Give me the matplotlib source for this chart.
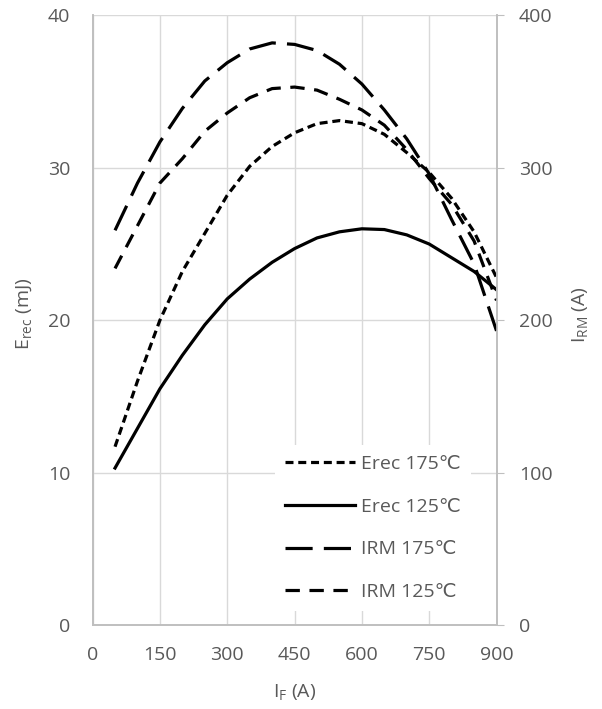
import matplotlib

matplotlib.use('agg')

import matplotlib.pyplot as plt

plt.rcParams['font.family'] = ['Open Sans', 'DejaVu Sans']
plt.rcParams['mathtext.default'] = 'regular'

# forward current (A)
i_f = [50, 100, 150, 200, 250, 300, 350, 400, 450, 500, 550, 600,
       650, 700, 750, 800, 850, 900]

# recovery energy (mJ), left axis
erec_175 = [11.7, 16.0, 20.0, 23.2, 25.7, 28.2, 30.1, 31.4, 32.3, 32.9, 33.1, 32.9,
            32.2, 31.0, 29.7, 28.0, 25.8, 22.8]
erec_125 = [10.3, 12.9, 15.5, 17.7, 19.7, 21.4, 22.7, 23.8, 24.7, 25.4, 25.8, 26.0,
            25.95, 25.6, 25.0, 24.1, 23.2, 22.0]

# peak reverse recovery current (A), right axis
irm_175 = [259, 290, 317, 339, 357, 369, 378, 382, 381, 377, 368, 355,
           338, 319, 296, 266, 237, 193]
irm_125 = [234, 262, 290, 306, 324, 336, 346, 352, 353, 351, 345, 338,
           328, 312, 293, 276, 252, 213]

grey = '#595959'
fs = 14
lw = 2.3

fig = plt.figure(figsize=(6.02, 7.09), dpi=100)
ax = fig.add_axes([0.1538, 0.1185, 0.671, 0.8597])
ax2 = ax.twinx()

kw = dict(color='black', lw=lw, solid_joinstyle='round', dash_joinstyle='round')
ax.plot(i_f, erec_175, linestyle=(0, (2.5, 1.5)), label='Erec 175\u2103', **kw)
ax.plot(i_f, erec_125, linestyle='-', label='Erec 125\u2103', **kw)
ax2.plot(i_f, irm_175, linestyle=(0, (8.5, 3.5)), label='IRM 175\u2103', **kw)
ax2.plot(i_f, irm_125, linestyle=(0, (4.5, 3.0)), label='IRM 125\u2103', **kw)

ax.set_xlim(0, 900)
ax.set_ylim(0, 40)
ax2.set_ylim(0, 400)
ax.set_xticks(range(0, 901, 150))
ax.set_yticks(range(0, 41, 10))
ax2.set_yticks(range(0, 401, 100))

ax.grid(True, color='#d9d9d9', lw=1)
ax.set_axisbelow(True)

for a in (ax, ax2):
    for s in a.spines.values():
        s.set_color('#bfbfbf')
        s.set_linewidth(1.2)
    a.spines['top'].set_visible(False)

ax.tick_params(axis='y', length=0, pad=16, labelsize=fs, labelcolor=grey)
ax.tick_params(axis='x', length=0, pad=15, labelsize=fs, labelcolor=grey)
ax2.tick_params(axis='y', length=5, color='#bfbfbf', pad=11, labelsize=fs, labelcolor=grey)

ax.set_xlabel('I$_F$ (A)', fontsize=fs, color=grey)
ax.set_ylabel('E$_{rec}$ (mJ)', fontsize=fs, color=grey)
ax2.set_ylabel('I$_{RM}$ (A)', fontsize=fs, color=grey)
ax.xaxis.set_label_coords(0.50, -0.093)
ax.yaxis.set_label_coords(-0.145, 0.51)
ax2.yaxis.set_label_coords(1.181, 0.51)

h1, l1 = ax.get_legend_handles_labels()
h2, l2 = ax2.get_legend_handles_labels()
leg = ax2.legend(h1 + h2, l1 + l2, loc='center left', bbox_to_anchor=(0.4515, 0.159),
                 borderaxespad=0, fontsize=fs, handlelength=3.6, handletextpad=0.35,
                 labelspacing=1.27, frameon=True, facecolor='white', edgecolor='none',
                 framealpha=1, borderpad=0.5, fancybox=False)
for t in leg.get_texts():
    t.set_color(grey)

plt.savefig('out.png')
